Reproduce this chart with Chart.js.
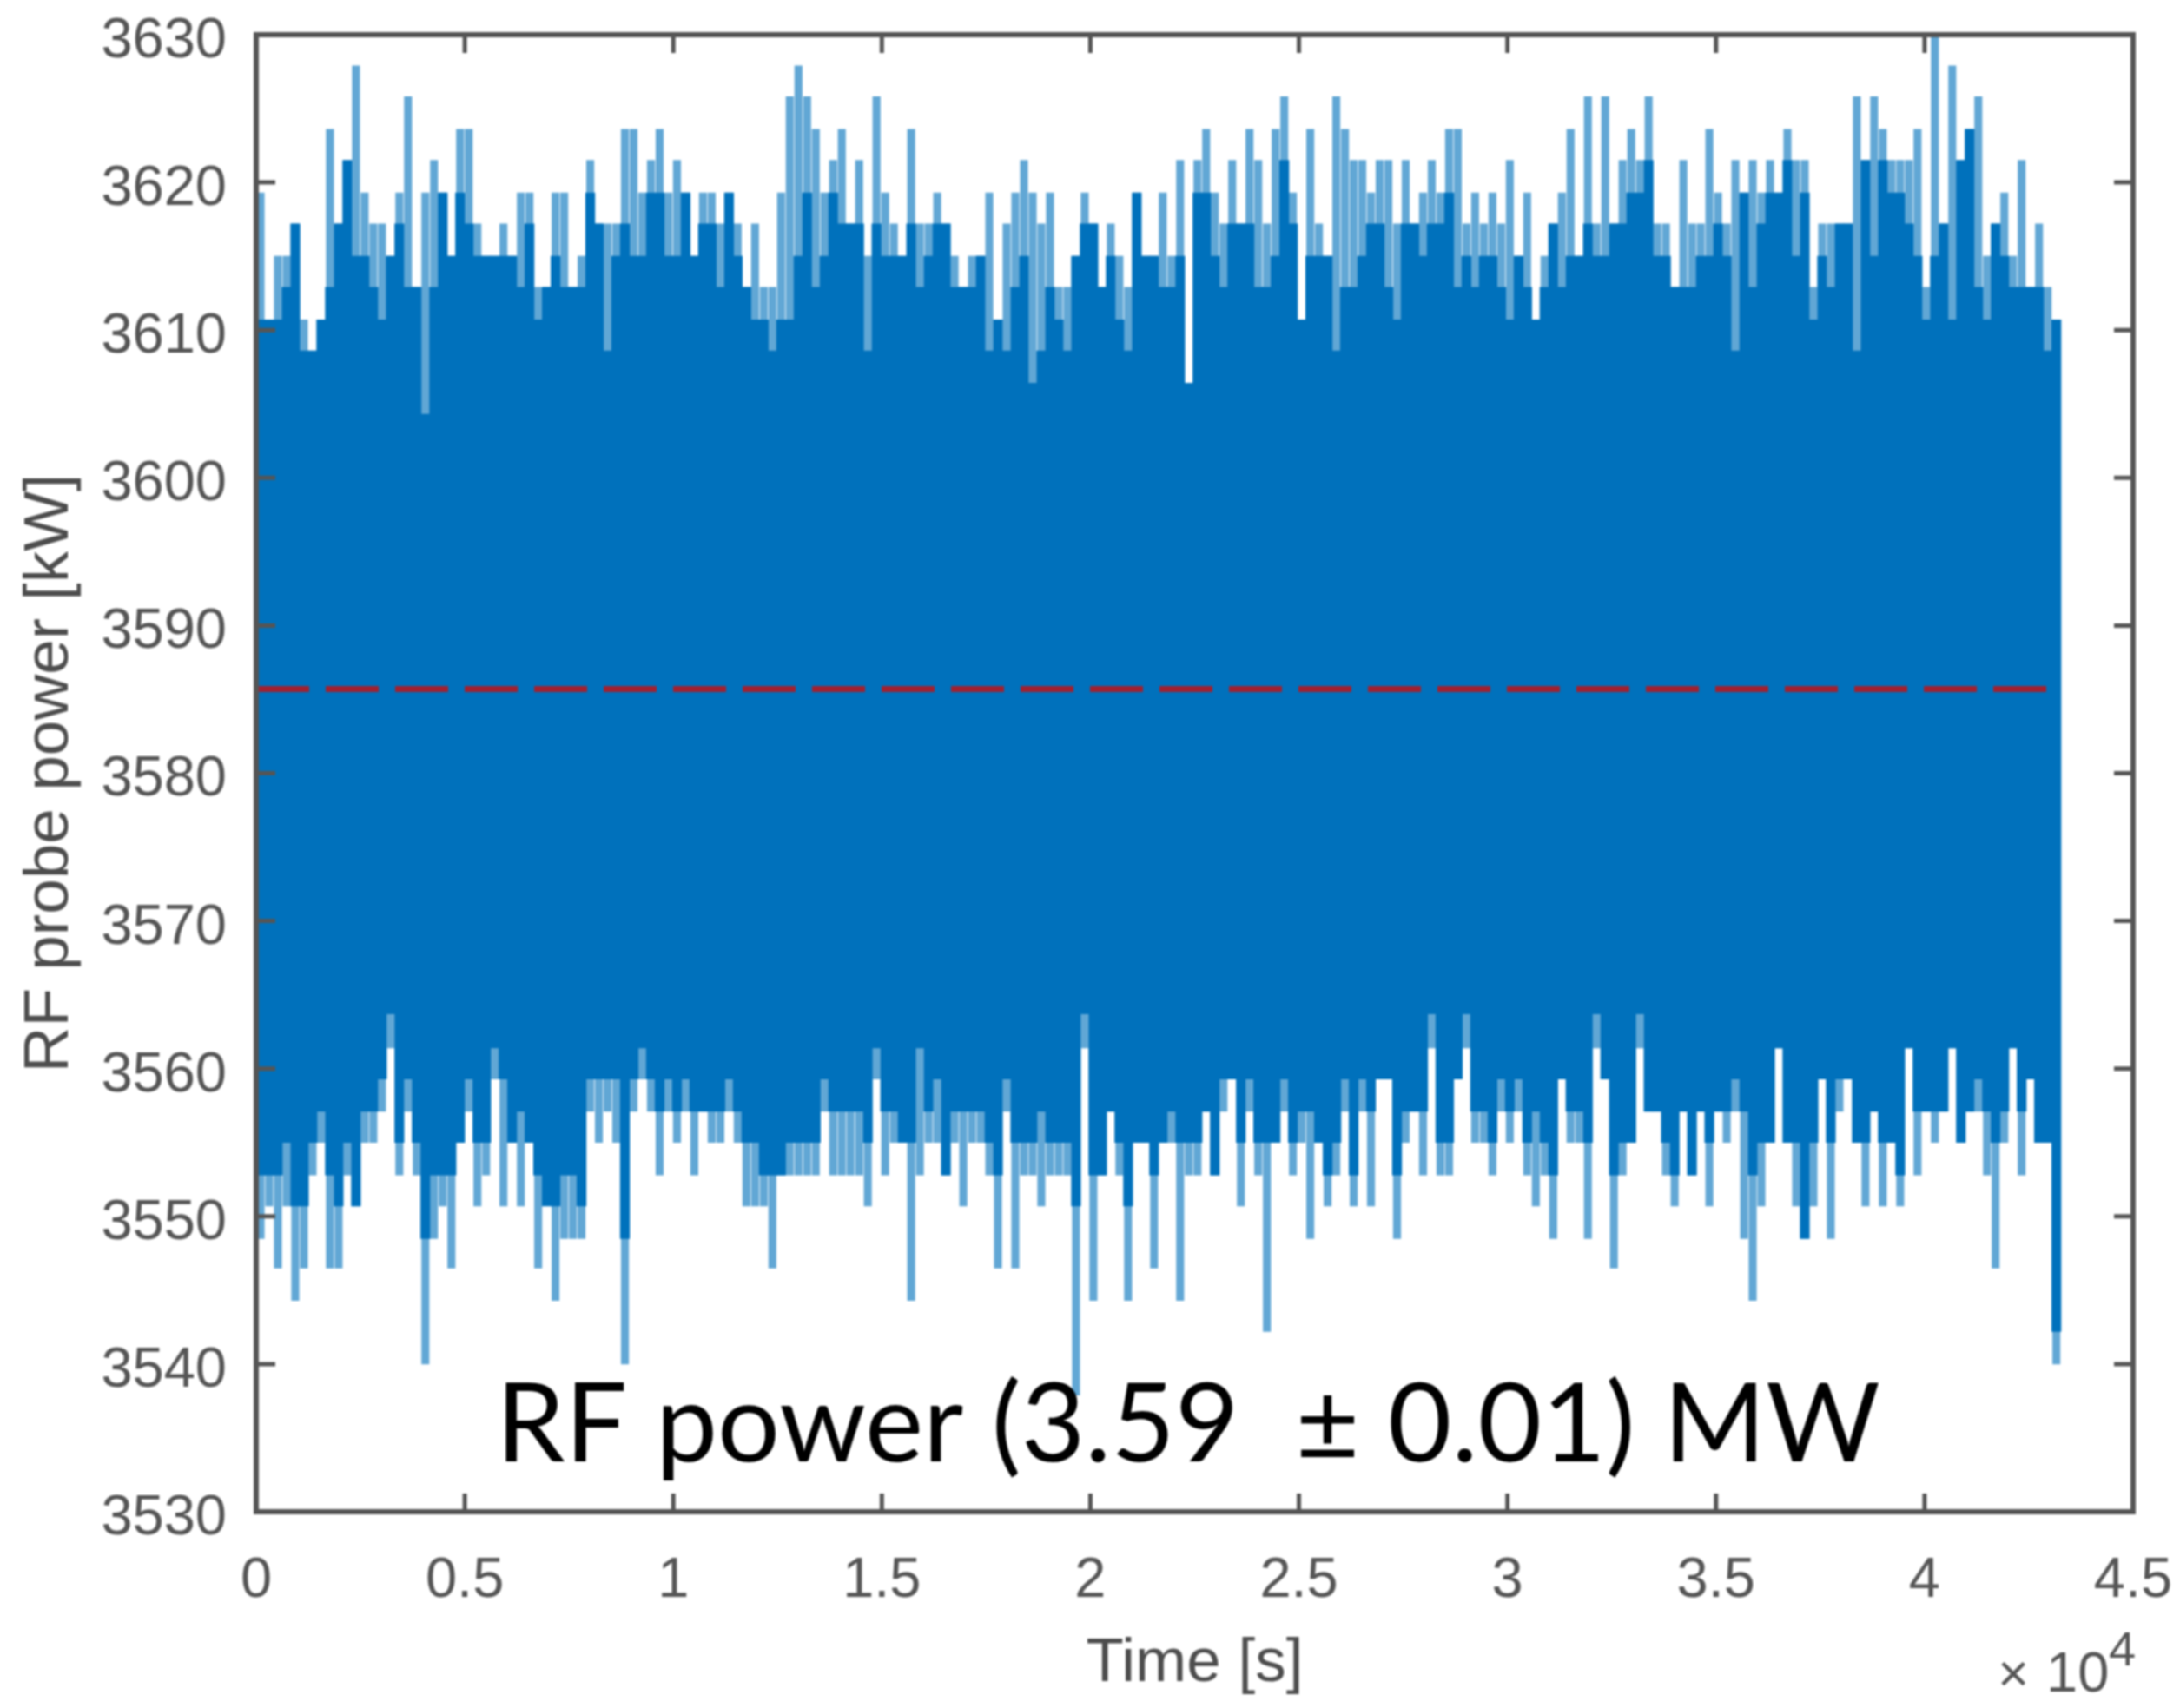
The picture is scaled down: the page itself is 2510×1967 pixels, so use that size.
<!DOCTYPE html>
<html>
<head>
<meta charset="utf-8">
<style>
html,body{margin:0;padding:0;background:#fff;}
#wrap{width:2510px;height:1967px;}
canvas{display:block;filter:blur(1.1px);}
</style>
<script src="https://cdn.jsdelivr.net/npm/chart.js@4"></script>
</head>
<body>
<div id="wrap"><canvas id="c" width="2510" height="1967"></canvas></div>
<script>
// Sampling interval of the columns [s]
const SAMPLE_STEP_S = 208;
const yTickStep = 10, xTickStep = 5000;
const meanPowerKW = 3585.7;
const recordEndS = 43200;
const xTitle = "Time [s]";
const yTitle = "RF probe power [kW]";
const noteText = "RF power (3.59  \u00B1 0.01) MW";

// Upper spike tips [kW]
const peakHigh = [
3619.3,3610.7,3615,3615,3617.2,3610.7,3608.6,3610.7,3623.6,3617.2,3621.5,3627.9,3619.3,3617.2,3617.2,3615,3619.3,3625.8,3612.9,3619.3,3621.5,3619.3,3615,3623.6,3623.6,3617.2,3615,3615,3617.2,3615,3619.3,3619.3,3612.9,3612.9,3619.3,3619.3,3612.9,3615,3621.5,3617.2,3617.2,3617.2,3623.6,3623.6,3619.3,3621.5,3623.6,3619.3,3621.5,3619.3,3615,3619.3,
3619.3,3617.2,3619.3,3617.2,3612.9,3617.2,3612.9,3612.9,3619.3,3625.8,3627.9,3625.8,3623.6,3619.3,3621.5,3623.6,3617.2,3621.5,3615,3625.8,3619.3,3617.2,3615,3623.6,3617.2,3617.2,3619.3,3617.2,3615,3612.9,3615,3615,3619.3,3610.7,3617.2,3619.3,3621.5,3619.3,3617.2,3619.3,3612.9,3612.9,3615,3619.3,3617.2,3612.9,3617.2,3615,3612.9,3619.3,3615,
3615,
3619.3,3615,3621.5,3606.4,3621.5,3623.6,3619.3,3617.2,3621.5,3617.2,3623.6,3621.5,3617.2,3623.6,3625.8,3619.3,3610.7,3623.6,3617.2,3615,3625.8,3623.6,3621.5,3621.5,3619.3,3621.5,3621.5,3617.2,3621.5,3617.2,3619.3,3621.5,3619.3,3623.6,3623.6,3617.2,3619.3,3617.2,3619.3,3617.2,3621.5,3615,3619.3,3610.7,3615,3617.2,3619.3,3623.6,3615,3625.8,3617.2,3625.8,
3617.2,3621.5,3623.6,3621.5,3625.8,3617.2,3617.2,3612.9,3621.5,3617.2,3617.2,3623.6,3619.3,3617.2,3621.5,3619.3,3621.5,3619.3,3621.5,3619.3,3623.6,3621.5,3621.5,3612.9,3617.2,3617.2,3617.2,3617.2,3625.8,3621.5,3625.8,3623.6,3621.5,3621.5,3621.5,3623.6,3612.9,3630,3617.2,3627.9,3621.5,3623.6,3625.8,3615,3617.2,3619.3,3615,3621.5,3612.9,3617.2,3612.9,3610.7
];
// Upper edge of the solid band [kW]
const coreHigh = [
3610.7,3610.7,3610.7,3612.9,3617.2,3608.6,3608.6,3610.7,3612.9,3617.2,3621.5,3615,3615,3612.9,3610.7,3615,3617.2,3612.9,3612.9,3604.3,3612.9,3619.3,3615,3619.3,3617.2,3615,3615,3615,3615,3615,3612.9,3617.2,3610.7,3612.9,3615,3612.9,3612.9,3612.9,3619.3,3617.2,3608.6,3615,3617.2,3615,3615,3619.3,3619.3,3615,3615,3619.3,3615,3617.2,
3617.2,3612.9,3619.3,3615,3612.9,3610.7,3610.7,3608.6,3610.7,3610.7,3615,3619.3,3612.9,3615,3619.3,3617.2,3617.2,3617.2,3608.6,3617.2,3615,3615,3615,3617.2,3612.9,3615,3617.2,3617.2,3612.9,3612.9,3612.9,3615,3608.6,3610.7,3608.6,3612.9,3615,3606.4,3608.6,3612.9,3610.7,3608.6,3615,3617.2,3617.2,3612.9,3615,3610.7,3608.6,3619.3,3615,
3615,
3612.9,3612.9,3615,3606.4,3619.3,3619.3,3615,3612.9,3617.2,3617.2,3617.2,3612.9,3612.9,3615,3621.5,3617.2,3610.7,3615,3615,3615,3608.6,3612.9,3612.9,3615,3617.2,3617.2,3612.9,3610.7,3617.2,3617.2,3615,3617.2,3617.2,3619.3,3612.9,3615,3612.9,3615,3615,3612.9,3610.7,3615,3612.9,3610.7,3612.9,3617.2,3612.9,3615,3615,3617.2,3615,3615,
3617.2,3617.2,3619.3,3619.3,3621.5,3615,3615,3612.9,3612.9,3612.9,3615,3615,3617.2,3615,3608.6,3619.3,3612.9,3617.2,3619.3,3619.3,3621.5,3615,3619.3,3610.7,3615,3612.9,3617.2,3617.2,3608.6,3621.5,3615,3621.5,3619.3,3619.3,3617.2,3615,3610.7,3615,3617.2,3610.7,3621.5,3623.6,3612.9,3610.7,3617.2,3615,3612.9,3612.9,3612.9,3612.9,3608.6,3610.7
];
// Lower edge of the solid band [kW]
const coreLow = [
3552.8,3552.8,3552.8,3555,3550.7,3550.7,3555,3557.1,3552.8,3550.7,3555,3550.7,3557.1,3557.1,3559.3,3563.7,3555,3559.3,3555,3548.5,3552.8,3552.8,3552.8,3555,3559.3,3555,3555,3561.4,3559.3,3555,3557.1,3555,3552.8,3550.7,3550.7,3552.8,3552.8,3550.7,3559.3,3559.3,3559.3,3559.3,3548.5,3559.3,3561.4,3559.3,3557.1,3559.3,3557.1,3559.3,3557.1,3557.1,
3557.1,3557.1,3559.3,3557.1,3555,3555,3552.8,3552.8,3552.8,3555,3555,3555,3555,3559.3,3557.1,3557.1,3557.1,3557.1,3555,3561.4,3557.1,3557.1,3555,3555,3561.4,3557.1,3559.3,3552.8,3557.1,3557.1,3557.1,3557.1,3555,3552.8,3559.3,3555,3555,3555,3557.1,3555,3555,3555,3550.7,3563.7,3552.8,3552.8,3557.1,3555,3550.7,3555,3555,
3552.8,
3555,3557.1,3555,3555,3555,3557.1,3552.8,3559.3,3559.3,3555,3559.3,3555,3555,3555,3559.3,3555,3557.1,3557.1,3555,3552.8,3555,3559.3,3552.8,3559.3,3557.1,3559.3,3559.3,3552.8,3557.1,3557.1,3557.1,3563.7,3555,3555,3559.3,3563.7,3557.1,3557.1,3555,3559.3,3557.1,3559.3,3555,3557.1,3555,3552.8,3559.3,3557.1,3557.1,3555,3563.7,3559.3,
3552.8,3555,3555,3563.7,3557.1,3557.1,3555,3552.8,3557.1,3552.8,3557.1,3555,3557.1,3557.1,3559.3,3557.1,3552.8,3555,3555,3561.4,3555,3555,3548.5,3555,3559.3,3555,3559.3,3559.3,3555,3555,3557.1,3555,3555,3552.8,3561.4,3557.1,3557.1,3557.1,3557.1,3561.4,3555,3557.1,3559.3,3557.1,3555,3557.1,3561.4,3557.1,3559.3,3555,3555,3542.2
];
// Lower spike tips [kW]
const peakLow = [
3548.5,3550.7,3546.5,3550.7,3544.3,3546.5,3552.8,3555,3546.5,3546.5,3552.8,3550.7,3555,3555,3557.1,3561.4,3552.8,3557.1,3552.8,3540,3548.5,3550.7,3546.5,3555,3557.1,3550.7,3552.8,3559.3,3550.7,3557.1,3550.7,3555,3546.5,3552.8,3544.3,3548.5,3548.5,3548.5,3557.1,3555,3557.1,3555,3540,3557.1,3559.3,3557.1,3552.8,3557.1,3555,3557.1,3552.8,3557.1,
3555,3555,3557.1,3555,3550.7,3550.7,3550.7,3546.5,3552.8,3552.8,3552.8,3552.8,3552.8,3557.1,3552.8,3552.8,3552.8,3552.8,3550.7,3559.3,3552.8,3555,3555,3544.3,3552.8,3555,3555,3552.8,3555,3550.7,3555,3555,3552.8,3546.5,3557.1,3546.5,3552.8,3552.8,3550.7,3552.8,3552.8,3552.8,3537.9,3561.4,3544.3,3552.8,3557.1,3552.8,3544.3,3555,3555,
3546.5,
3555,3555,3544.3,3552.8,3552.8,3557.1,3552.8,3557.1,3559.3,3550.7,3557.1,3552.8,3542.2,3555,3557.1,3552.8,3555,3548.5,3555,3550.7,3552.8,3557.1,3550.7,3557.1,3550.7,3559.3,3559.3,3548.5,3555,3557.1,3552.8,3561.4,3552.8,3552.8,3559.3,3561.4,3555,3555,3552.8,3557.1,3555,3557.1,3552.8,3550.7,3552.8,3548.5,3559.3,3555,3555,3548.5,3561.4,3559.3,
3546.5,3552.8,3555,3561.4,3557.1,3557.1,3552.8,3550.7,3557.1,3552.8,3557.1,3550.7,3557.1,3555,3557.1,3548.5,3544.3,3550.7,3555,3561.4,3557.1,3550.7,3548.5,3550.7,3559.3,3548.5,3557.1,3559.3,3557.1,3550.7,3557.1,3550.7,3555,3550.7,3561.4,3552.8,3557.1,3555,3557.1,3561.4,3555,3557.1,3557.1,3552.8,3546.5,3555,3561.4,3552.8,3559.3,3555,3555,3540
];

const spikeColumns = peakHigh.map((hi,i)=>({x:(i+0.5)*SAMPLE_STEP_S, y:[peakLow[i],hi]}));
const coreColumns  = coreHigh.map((hi,i)=>({x:(i+0.5)*SAMPLE_STEP_S, y:[coreLow[i],hi]}));

const INK = "#555555";
const frameAndNotes = {
  id:"frameAndNotes",
  afterDatasetsDraw(chart){
    const {ctx, chartArea:a, scales:{x,y}} = chart;
    ctx.save();
    // inward ticks on all four sides
    ctx.strokeStyle = INK; ctx.lineWidth = 5;
    ctx.beginPath();
    x.ticks.forEach(t=>{
      const p = x.getPixelForValue(t.value);
      ctx.moveTo(p,a.bottom); ctx.lineTo(p,a.bottom-21);
      ctx.moveTo(p,a.top);    ctx.lineTo(p,a.top+21);
    });
    y.ticks.forEach(t=>{
      const p = y.getPixelForValue(t.value);
      ctx.moveTo(a.left,p);  ctx.lineTo(a.left+22,p);
      ctx.moveTo(a.right,p); ctx.lineTo(a.right-22,p);
    });
    ctx.stroke();
    // box
    ctx.lineWidth = 6;
    ctx.strokeRect(a.left,a.top,a.right-a.left,a.bottom-a.top);
    // annotation
    ctx.fillStyle = "#000";
    ctx.textBaseline = "alphabetic"; ctx.textAlign = "left";
    ctx.font = "127px Lato";
    ctx.fillText(noteText, 571, 1683);
    // axis exponent
    ctx.fillStyle = "#555";
    ctx.font = "62px 'Liberation Sans'";
    ctx.fillText("\u00D7", 2300, 1948);
    ctx.font = "65px 'Liberation Sans'";
    ctx.fillText("10", 2356, 1948);
    ctx.font = "56px 'Liberation Sans'";
    ctx.fillText("4", 2428, 1918);
    ctx.restore();
  }
};

new Chart(document.getElementById("c"),{
  type:"bar",
  data:{datasets:[
    {label:"RF probe power (spikes)", data:spikeColumns, backgroundColor:"rgba(0,113,188,0.62)", barThickness:8.5, grouped:false, order:3},
    {label:"RF probe power", data:coreColumns, backgroundColor:"#0071BC", barThickness:10.6, grouped:false, order:2},
    {type:"line", label:"Mean", data:[{x:0,y:meanPowerKW},{x:recordEndS,y:meanPowerKW}], borderColor:"#A2202F", borderWidth:7, borderDash:[61,19], pointRadius:0, order:1}
  ]},
  options:{
    responsive:false, animation:false, devicePixelRatio:1,
    layout:{padding:{top:40,right:54,left:0,bottom:0}},
    plugins:{legend:{display:false},tooltip:{enabled:false}},
    scales:{
      x:{type:"linear",min:0,max:45000,offset:false,
        grid:{display:false},border:{display:false},
        afterFit(s){s.height=226;s.paddingLeft=0;s.paddingRight=0;},
        ticks:{stepSize:xTickStep,padding:33,maxRotation:0,color:"#555",font:{family:"'Liberation Sans'",size:65},
          callback:v=>String(v/10000)},
        title:{display:true,text:xTitle,color:"#4d4d4d",font:{family:"'Liberation Sans'",size:71},padding:{top:0,bottom:8}}},
      y:{type:"linear",min:3530,max:3630,
        grid:{display:false},border:{display:false},
        afterFit(s){s.width=295;s.paddingTop=0;s.paddingBottom=0;},
        ticks:{stepSize:yTickStep,padding:26,labelOffset:8,color:"#555",font:{family:"'Liberation Sans'",size:65},
          callback:v=>String(v)},
        title:{display:true,text:yTitle,color:"#4d4d4d",font:{family:"'Liberation Sans'",size:73},padding:{top:14,bottom:0}}}
    }
  },
  plugins:[frameAndNotes]
});
</script>
</body>
</html>
